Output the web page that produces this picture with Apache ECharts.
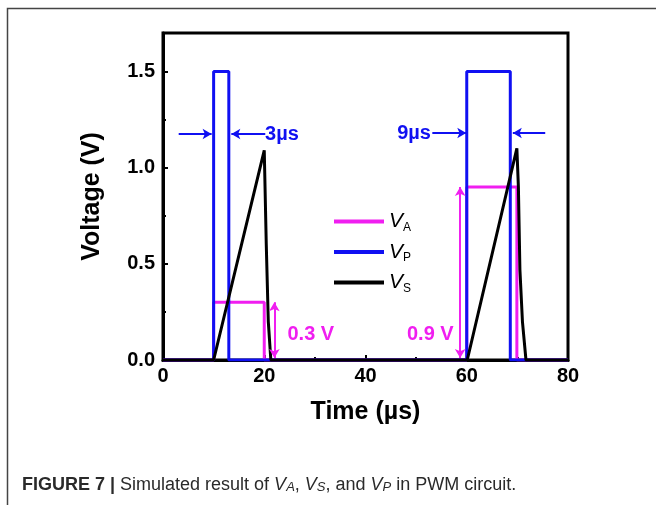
<!DOCTYPE html>
<html>
<head>
<meta charset="utf-8">
<script src="https://cdn.jsdelivr.net/npm/echarts@6/dist/echarts.min.js"></script>
<style>
  html, body { margin: 0; padding: 0; background: #fff; }
  #chart { width: 656px; height: 505px; }
</style>
</head>
<body>
<div id="chart"></div>
<script>
// [time (µs), voltage (V)]
const vaPoints = [[0, 0], [10, 0], [10, 0.3], [20, 0.3], [20, 0], [60, 0], [60, 0.9], [69.9, 0.9], [69.9, 0], [80, 0]]
const vpPoints = [[0, 0], [10, 0], [10, 1.5], [13, 1.5], [13, 0], [60, 0], [60, 1.5], [68.6, 1.5], [68.6, 0], [80, 0]]
const vsPoints = [[0, 0], [10, 0], [20, 1.09], [20.4, 0.6], [20.8, 0.2], [21.3, 0], [60.1, 0], [69.9, 1.1], [70.2, 0.9], [70.5, 0.47], [71, 0.2], [71.7, 0], [80, 0]]

// annotations, in data units
const pulseArrows = [[[3.1, 1.175], [9.6, 1.175]], [[20.2, 1.175], [13.5, 1.175]], [[53.2, 1.18], [59.9, 1.18]], [[75.5, 1.18], [69.1, 1.18]]]
const levelArrows = [[[22, 0.01], [22, 0.3]], [[58.7, 0.01], [58.7, 0.9]]]
const widthTexts = [['3µs', 23.5, 1.175], ['9µs', 49.6, 1.18]]
const levelTexts = [['0.3 V', 29.2, 0.135], ['0.9 V', 52.8, 0.135]]

const BLUE = '#1010f2'
const PINK = '#f01ef0'
const FONT = '"Liberation Sans", Arial, sans-serif'

const chart = echarts.init(document.getElementById('chart'))

const subLabel = name => '{v|V}{s|' + name.slice(1) + '}'

chart.setOption({
    animation: false,
    graphic: [
        { // figure frame
            type: 'rect', left: 5, top: 6, silent: true,
            shape: { width: 700, height: 600 },
            style: { fill: 'none', stroke: '#444', lineWidth: 1.5 }
        },
        {
            type: 'text', left: 22, top: 476,
            style: {
                text: '{b|FIGURE 7 |} Simulated result of {i|V}{is|A}, {i|V}{is|S}, and {i|V}{is|P} in PWM circuit.',
                font: '18px ' + FONT,
                fill: '#2a2a2a',
                rich: {
                    b: { fontWeight: 'bold', fontSize: 18, fill: '#2a2a2a' },
                    i: { fontStyle: 'italic', fontSize: 18, fill: '#2a2a2a' },
                    is: { fontStyle: 'italic', fontSize: 13, fill: '#2a2a2a', verticalAlign: 'bottom', lineHeight: 15 }
                }
            }
        }
    ],
    grid: {
        left: 163, right: 88, top: 33, bottom: 145,
        show: true, borderColor: '#000', borderWidth: 3
    },
    legend: {
        data: ['VA', 'VP', 'VS'],
        orient: 'vertical',
        left: 329, top: 206,
        icon: 'rect',
        itemWidth: 50, itemHeight: 4,
        itemGap: 8,
        formatter: subLabel,
        textStyle: {
            rich: {
                v: { fontFamily: FONT, fontStyle: 'italic', fontSize: 21, color: '#000', lineHeight: 24 },
                s: { fontFamily: FONT, fontSize: 12, color: '#000', verticalAlign: 'bottom', lineHeight: 14 }
            }
        }
    },
    xAxis: {
        type: 'value', min: 0, max: 80, interval: 20,
        name: 'Time (µs)', nameLocation: 'middle', nameGap: 40,
        nameTextStyle: { fontFamily: FONT, fontWeight: 'bold', fontSize: 25, color: '#000' },
        axisLine: { lineStyle: { color: '#000', width: 3 } },
        axisTick: { inside: true, length: 5, lineStyle: { color: '#000', width: 2 } },
        minorTick: { show: true, splitNumber: 2, length: 3, lineStyle: { color: '#000', width: 2 } },
        splitLine: { show: false },
        axisLabel: { fontFamily: FONT, fontWeight: 'bold', fontSize: 20, color: '#000', margin: 6 }
    },
    yAxis: {
        type: 'value', min: 0, max: 1.7, interval: 0.5,
        name: 'Voltage (V)', nameLocation: 'middle', nameGap: 58,
        nameTextStyle: { fontFamily: FONT, fontWeight: 'bold', fontSize: 25, color: '#000' },
        axisLine: { lineStyle: { color: '#000', width: 3 } },
        axisTick: { inside: true, length: 5, lineStyle: { color: '#000', width: 2 } },
        minorTick: { show: true, splitNumber: 2, length: 3, lineStyle: { color: '#000', width: 2 } },
        splitLine: { show: false },
        axisLabel: {
            fontFamily: FONT, fontWeight: 'bold', fontSize: 20, color: '#000', margin: 8,
            showMaxLabel: false,
            formatter: v => v.toFixed(1)
        }
    },
    series: [
        {
            name: 'VA', type: 'line', data: vaPoints, showSymbol: false,
            color: PINK, lineStyle: { width: 3, color: PINK }
        },
        {
            name: 'VP', type: 'line', data: vpPoints, showSymbol: false,
            color: BLUE, lineStyle: { width: 3, color: BLUE }
        },
        {
            name: 'VS', type: 'line', data: vsPoints, showSymbol: false,
            color: '#000', lineStyle: { width: 3, color: '#000' }
        },
        {
            name: 'arrows', type: 'line', data: [],
            markLine: {
                silent: true,
                label: { show: false },
                symbolSize: [8, 9],
                data: pulseArrows.map(a => [
                    { coord: a[0], symbol: 'none' },
                    { coord: a[1], symbol: 'arrow', lineStyle: { color: BLUE, width: 2, type: 'solid' } }
                ]).concat(levelArrows.map(a => [
                    { coord: a[0], symbol: 'arrow' },
                    { coord: a[1], symbol: 'arrow', lineStyle: { color: PINK, width: 2, type: 'solid' } }
                ]))
            }
        },
        {
            name: 'notes', type: 'scatter', symbolSize: 0, silent: true,
            itemStyle: { opacity: 1 },
            data: widthTexts.map(t => ({ name: t[0], value: [t[1], t[2]], label: { color: BLUE } }))
                .concat(levelTexts.map(t => ({ name: t[0], value: [t[1], t[2]], label: { color: PINK } }))),
            label: {
                show: true, position: 'inside', opacity: 1,
                formatter: p => p.name,
                fontFamily: FONT, fontWeight: 'bold', fontSize: 20,
                textBorderWidth: 0, textBorderColor: 'transparent'
            }
        }
    ]
})
</script>
</body>
</html>
